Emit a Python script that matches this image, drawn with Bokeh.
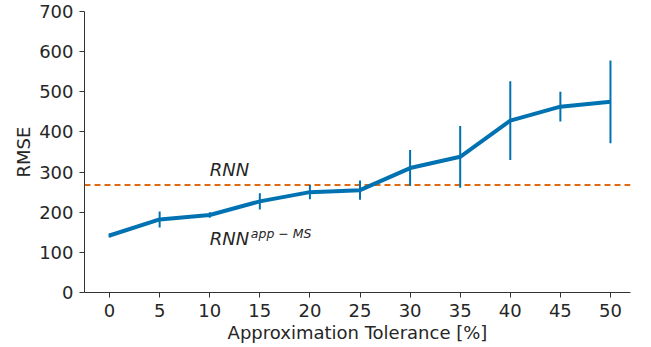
from bokeh.plotting import figure
from bokeh.models import Range1d, FixedTicker, ColumnDataSource
from bokeh.core.properties import value
from bokeh.embed import file_html
from bokeh.resources import INLINE

tolerance = [0, 5, 10, 15, 20, 25, 30, 35, 40, 45, 50]
rmse = [142, 182, 193, 227, 250, 255, 310, 338, 428, 463, 475]
err = [5, 20, 7, 20, 18, 24, 45, 77, 98, 37, 103]
rnn_baseline = 268
x_ticks = list(range(0, 55, 5))
y_ticks = list(range(0, 800, 100))

BLUE = "#0072B2"
ORANGE = "#E06A12"
AX = "#333333"
FONT = "DejaVu Sans"

p = figure(width=651, height=347, output_backend="svg", toolbar_location=None,
           x_range=Range1d(-2.5, 52), y_range=Range1d(0, 700),
           min_border_left=84, min_border_right=21, min_border_top=11, min_border_bottom=55)
p.outline_line_color = None
p.grid.visible = False
p.background_fill_color = "white"

src = ColumnDataSource(dict(x=tolerance, y=rmse,
                            lo=[v - e for v, e in zip(rmse, err)],
                            hi=[v + e for v, e in zip(rmse, err)]))

p.line(x=[-2.5, 52], y=[rnn_baseline, rnn_baseline], line_color=ORANGE,
       line_width=2, line_dash="6 4")
p.line("x", "y", source=src, line_color=BLUE, line_width=4)
p.segment(x0="x", y0="lo", x1="x", y1="hi", source=src, line_color=BLUE, line_width=2)

p.text(x=[10], y=[306], text=["RNN"], text_font=value(FONT), text_font_style="italic",
       text_font_size="18px", text_color="#262626", text_baseline="alphabetic")
p.text(x=[10], y=[134], text=["RNN"], text_font=value(FONT), text_font_style="italic",
       text_font_size="18px", text_color="#262626", text_baseline="alphabetic")
p.text(x=[14.1], y=[146], text=["app \u2212 MS"], text_font=value(FONT), text_font_style="italic",
       text_font_size="12.5px", text_color="#262626", text_baseline="alphabetic")

for ax in (p.xaxis[0], p.yaxis[0]):
    ax.axis_line_color = AX
    ax.major_tick_line_color = AX
    ax.minor_tick_line_color = None
    ax.major_tick_out = 5
    ax.major_tick_in = 0
    ax.major_label_text_font = FONT
    ax.major_label_text_font_size = "18px"
    ax.major_label_text_color = "#262626"
    ax.axis_label_text_font = FONT
    ax.axis_label_text_font_size = "18px"
    ax.axis_label_text_font_style = "normal"
    ax.axis_label_text_color = "#262626"

p.xaxis.ticker = FixedTicker(ticks=x_ticks)
p.yaxis.ticker = FixedTicker(ticks=y_ticks)
p.xaxis.axis_label = "Approximation Tolerance [%]"
p.yaxis.axis_label = "RMSE"
p.xaxis.axis_label_standoff = 2
p.yaxis.axis_label_standoff = 2
p.xaxis.major_label_standoff = 6
p.yaxis.major_label_standoff = 6

open("out.html", "w").write(file_html(p, INLINE))
